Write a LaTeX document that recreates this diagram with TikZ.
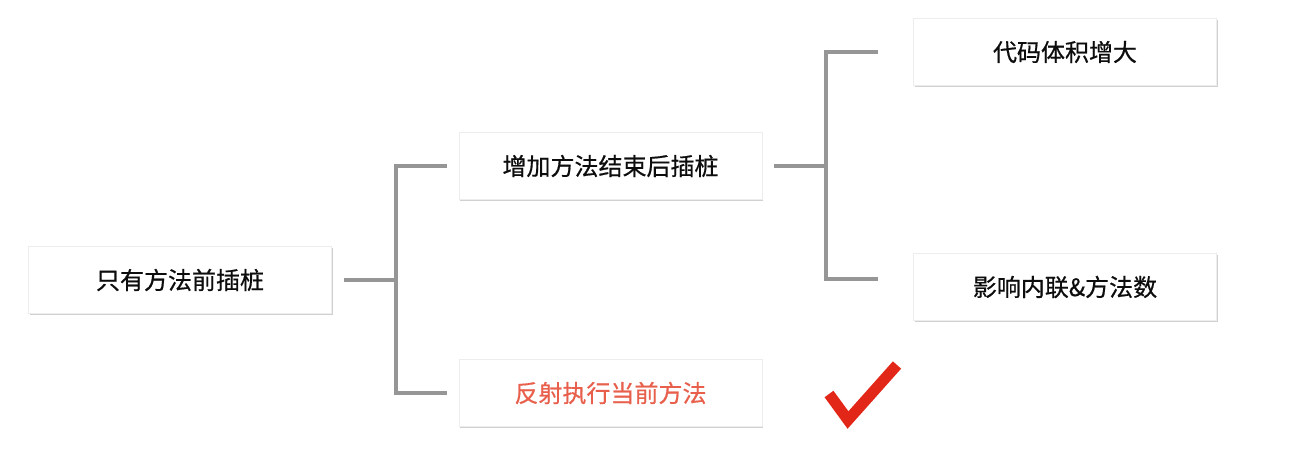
\documentclass[tikz,border=0pt]{standalone}
\usepackage{fontspec}
\newfontfamily\cjk[FakeBold=0.6]{Noto Sans CJK SC}
\usetikzlibrary{shadows}
\definecolor{linegray}{RGB}{150,150,150}
\definecolor{txtred}{RGB}{232,96,76}
\definecolor{chkred}{RGB}{226,38,24}
\tikzset{
  box/.style={draw=black!7, line width=0.6pt, fill=white, minimum width=303pt, minimum height=67pt,
    inner sep=0pt, font=\cjk\fontsize{24}{28}\selectfont, text=black!95,
    drop shadow={shadow xshift=1.2pt, shadow yshift=-1.8pt, opacity=0.3, fill=black!60}},
  conn/.style={draw=linegray, line width=4pt, line join=miter},
}
\begin{document}
\begin{tikzpicture}[x=1pt,y=-1pt]
\useasboundingbox (0,0) rectangle (1302,472);
\node[box] (a) at (180,280) {只有方法前插桩};
\node[box] (b) at (610.5,166) {增加方法结束后插桩};
\node[box, text=txtred] (c) at (610.5,393) {反射执行当前方法};
\node[box] (d) at (1065,52) {代码体积增大};
\node[box] (e) at (1065,287) {影响内联\&方法数};
% connectors
\coordinate (j1) at (396,280);
\coordinate (j2) at (826,166);
\coordinate (d1) at (878,52);
\coordinate (e1) at (878,279);
\draw[conn] ([xshift=12pt]a.east) -- (j1);
\draw[conn] ([xshift=-12pt]b.west) -- (j1 |- b.west) -- (j1 |- c.west) -- ([xshift=-12pt]c.west);
\draw[conn] ([xshift=12pt]b.east) -- (j2);
\draw[conn] (d1) -- (j2 |- d1) -- (j2 |- e1) -- (e1);
% check mark
\draw[chkred, line width=11pt, line join=miter, line cap=butt] (829,394) -- (848,420) -- (897,365);
\end{tikzpicture}
\end{document}
